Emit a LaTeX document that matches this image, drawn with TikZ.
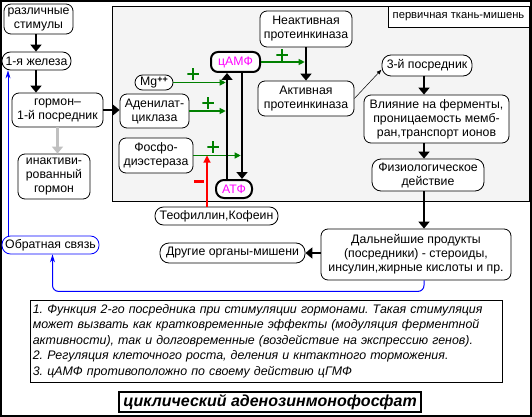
\documentclass[tikz,border=0pt]{standalone}
\usepackage{fontspec}
\setmainfont{Liberation Sans}
\usetikzlibrary{arrows.meta}
\frenchspacing
\definecolor{gr}{RGB}{0,128,0}
\definecolor{panel}{RGB}{244,244,244}
\definecolor{mag}{RGB}{255,0,255}
\newcommand{\fs}{\fontsize{12.3}{14}\selectfont}
\tikzset{
 box/.style={draw, fill=white, rounded corners=7pt, align=center, inner sep=0pt, font=\fs, line width=0.8pt},
 pill/.style={box, rounded corners=8.5pt},
 thk/.style={line width=2.6pt, -{Triangle[length=7pt,width=11pt]}},
 garr/.style={gr, line width=1.1pt, -{Triangle[length=6pt,width=6pt]}},
 plus/.style={minimum size=11.5pt, inner sep=0pt, path picture={\draw[gr, line width=2.8pt] (path picture bounding box.west) -- (path picture bounding box.east) (path picture bounding box.north) -- (path picture bounding box.south);}},
 minus/.style={minimum width=10pt, minimum height=3pt, inner sep=0pt, fill=red},
}
\begin{document}
\begin{tikzpicture}[x=1pt,y=-1pt]
\useasboundingbox (0,0) rectangle (532,417);
\draw[line width=2pt] (1,1) rectangle (531,416);
% panel
\draw[fill=panel, line width=0.8pt] (112,6) rectangle (529,201);
\node[draw, fill=white, line width=0.8pt, minimum width=141pt, minimum height=21pt, inner sep=0pt, font=\fontsize{11.2}{13}\selectfont] (tissue) at (458.5,16.5) {первичная ткань-мишень};
% coordinates
\coordinate (A) at (36,0);
\coordinate (B) at (8,0);
\coordinate (L) at (227,0);
\coordinate (R) at (242,0);
\coordinate (Rx) at (207,0);
\coordinate (V) at (424,0);
\coordinate (K) at (306,0);
% nodes
\node[box, minimum width=69pt, minimum height=30pt] (rs) at (38.5,19) {различные\\стимулы};
\node[pill, minimum width=69pt, minimum height=18pt] (gl) at (36.5,61) {1-я железа};
\node[box, minimum width=91pt, minimum height=34pt] (gor) at (57.5,110) {гормон–\\1-й посредник};
\node[box, minimum width=72pt, minimum height=45pt] (inact) at (54,176.5) {инактиви-\\рованный\\гормон};
\node[pill, minimum width=38pt, minimum height=15pt, rounded corners=7.5pt] (mg) at (154,82.5) {Mg\raisebox{3.5pt}{\fontsize{9}{9}\selectfont\bfseries ++}};
\node[box, minimum width=69pt, minimum height=34pt] (ad) at (154.5,111) {Аденилат-\\циклаза};
\node[box, minimum width=74pt, minimum height=35pt] (ph) at (156,155.5) {Фосфо-\\диэстераза};
\node[box, line width=2pt, minimum width=49pt, minimum height=20pt, text=mag] (camp) at (235.5,62) {цАМФ};
\node[box, line width=2pt, minimum width=36pt, minimum height=18pt, text=mag, rounded corners=8pt] (atf) at (234,189) {АТФ};
\node[box, minimum width=92pt, minimum height=36pt] (ina) at (306,29) {Неактивная\\протеинкиназа};
\node[box, minimum width=96pt, minimum height=35pt] (act) at (306,98.5) {Активная\\протеинкиназа};
\node[pill, minimum width=90pt, minimum height=21pt, rounded corners=9pt] (tp) at (427,65.5) {3-й посредник};
\node[box, minimum width=145pt, minimum height=48pt] (vl) at (436.5,119) {Влияние на ферменты,\\проницаемость мемб-\\ран,транспорт ионов};
\node[box, minimum width=112pt, minimum height=32pt, rounded corners=9pt] (fz) at (428,175) {Физиологическое\\действие};
\node[pill, minimum width=123pt, minimum height=18pt] (theo) at (216.5,216) {Теофиллин,Кофеин};
\node[pill, draw=blue, minimum width=97pt, minimum height=18pt] (fb) at (50.5,245) {Обратная связь};
\node[pill, minimum width=145pt, minimum height=20pt, rounded corners=9pt] (oth) at (232.5,253) {Другие органы-мишени};
\node[box, minimum width=190pt, minimum height=51pt] (dal) at (416,254.5) {Дальнейшие продукты\\(посредники) - стероиды,\\инсулин,жирные кислоты и пр.};
% connectors
\draw[thk] (rs.south -| A) -- (gl.north -| A);
\draw[thk] (gl.south -| A) -- (gor.north -| A);
\draw[thk, draw={rgb,255:red,192;green,192;blue,192}, -{Triangle[length=7pt,width=11pt,fill={rgb,255:red,192;green,192;blue,192}]}] (gor.south) -- (inact.north -| gor.south);
\draw[thk] (gor.east) -- (ad.west |- gor.east);
\draw[garr, shorten >=1.3pt] (mg.east) -- (mg.east -| L);
\draw[garr, shorten >=1.3pt] (ad.east) -- (ad.east -| L);
\draw[garr, shorten >=1.3pt] (ph.east) -- (ph.east -| R);
\draw[red, line width=1.1pt, -{Triangle[length=7pt,width=7pt]}] (theo.north -| Rx) -- (ph.east -| Rx);
\draw[thk] (atf.north -| L) -- (camp.south -| L);
\draw[thk] (camp.south -| R) -- (atf.north -| R);
\draw[garr, shorten >=1.3pt] (camp.east) -- (camp.east -| K);
\draw[thk] (ina.south) -- (act.north);
\draw[-{Latex[length=5pt,width=4pt]}, line width=0.5pt] (act.east) -- ([yshift=-4pt]tp.west);
\draw[thk] (tp.south -| V) -- (vl.north -| V);
\draw[thk] (vl.south -| V) -- (fz.north -| V);
\draw[thk] (fz.south -| V) -- (dal.north -| V);
\draw[thk] (dal.west |- oth.east) -- (oth.east);
\draw[blue, line width=1pt, rounded corners=6pt, -{Stealth[length=8pt,width=5pt]}] (dal.south -| V) -- ++(0,11) -| ([xshift=2pt]fb.south);
\draw[blue, line width=1pt, -{Stealth[length=8pt,width=5pt]}] (fb.north -| B) -- (gl.south -| B);
% signs
\node[plus] (p1) at (193,74) {};
\node[plus] (p2) at (208,103) {};
\node[plus] (p3) at (213,147) {};
\node[plus] (p4) at (282,55) {};
\node[minus] (m1) at (199,181) {};
% notes
\node[draw, line width=0.8pt, minimum width=472pt, minimum height=82pt, text width=468pt, align=left, inner sep=0pt, font=\fontsize{12.4}{15.5}\selectfont\itshape] (notes) at (266.8,341) {1. Функция 2-го посредника при стимуляции гормонами. Такая стимуляция\\может вызвать как кратковременные эффекты (модуляция ферментной\\активности), так и долговременные (воздействие на экспрессию генов).\\2. Регуляция клеточного роста, деления и кнтактного торможения.\\3. цАМФ противоположно по своему действию цГМФ};
\node[draw, line width=2pt, minimum width=302pt, minimum height=20pt, inner sep=0pt, font=\fontsize{16}{18}\selectfont\bfseries\itshape] (title) at (270,402) {циклический аденозинмонофосфат};
\end{tikzpicture}
\end{document}
